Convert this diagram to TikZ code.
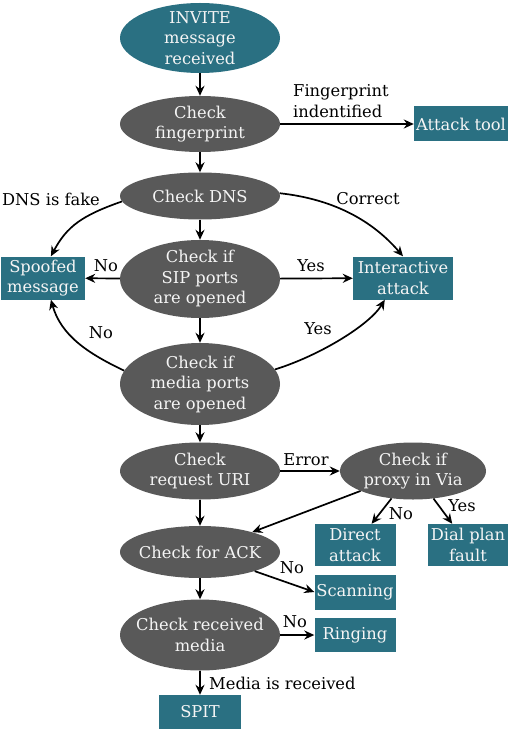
\documentclass[tikz,border=0pt]{standalone}
\usepackage{fontspec}
\setmainfont{DejaVu Serif}
\usetikzlibrary{arrows.meta,shapes.geometric}
\definecolor{tealc}{RGB}{42,112,130}
\definecolor{grayc}{RGB}{89,89,89}
\definecolor{txtc}{RGB}{245,245,245}
\newcommand\fs{\fontsize{16.3}{20.5}\selectfont}
\begin{document}
\begin{tikzpicture}[x=1pt,y=-1pt,
 ell/.style={ellipse, fill=grayc, minimum width=160pt, inner sep=0pt},
 ltxt/.style={align=center, text=txtc, font=\fs, inner sep=0pt},
 box/.style={rectangle, fill=tealc, text=txtc, inner sep=0pt, align=center, font=\fs},
 arr/.style={-{Stealth[length=10pt,width=9pt]}, line width=1.7pt},
 lbl/.style={font=\fs, inner sep=0pt, align=left}]
\useasboundingbox (0,0) rectangle (509,730);
% ellipses
\node[ell, fill=tealc, minimum height=70pt, label={[ltxt]center:{INVITE\\message\\received}}] (inv) at (200,38) {};
\node[ell, minimum height=56pt, label={[ltxt]center:{Check\\fingerprint}}] (fp) at (200,124) {};
\node[ell, minimum height=47pt, label={[ltxt]center:{Check DNS}}] (dns) at (200,196) {};
\node[ell, minimum height=78pt, label={[ltxt]center:{Check if\\SIP ports\\are opened}}] (sip) at (200,279) {};
\node[ell, minimum height=82pt, label={[ltxt]center:{Check if\\media ports\\are opened}}] (media) at (200,384) {};
\node[ell, minimum height=57pt, label={[ltxt]center:{Check\\request URI}}] (uri) at (200,471) {};
\node[ell, minimum width=146pt, minimum height=57pt, label={[ltxt]center:{Check if\\proxy in Via}}] (proxy) at (413,471) {};
\node[ell, minimum height=52pt, label={[ltxt]center:{Check for ACK}}] (ack) at (200,552) {};
\node[ell, minimum height=71pt, label={[ltxt]center:{Check received\\media}}] (rmedia) at (200,635) {};
% boxes
\node[box, minimum width=94pt, minimum height=35pt] (at) at (461,124) {Attack tool};
\node[box, minimum width=84pt, minimum height=43pt] (spoof) at (43,278) {Spoofed\\message};
\node[box, minimum width=100pt, minimum height=43pt] (inter) at (403,278) {Interactive\\attack};
\node[box, minimum width=81pt, minimum height=42pt] (direct) at (355,545) {Direct\\attack};
\node[box, minimum width=80pt, minimum height=42pt] (dial) at (468,545) {Dial plan\\fault};
\node[box, minimum width=81pt, minimum height=35pt] (scan) at (355,592) {Scanning};
\node[box, minimum width=81pt, minimum height=34pt] (ring) at (355,635) {Ringing};
\node[box, minimum width=82pt, minimum height=34pt] (spit) at (200,712) {SPIT};
% connectors
\draw[arr] (inv) -- (fp);
\draw[arr] (fp) -- (at);
\draw[arr] (fp) -- (dns);
\draw[arr] (dns) -- (sip);
\draw[arr] (sip) -- (spoof);
\draw[arr] (sip) -- (inter);
\draw[arr] (dns.184) .. controls +(-40,14) and +(16,-30) .. (spoof.70);
\draw[arr] (dns.2) .. controls +(55,6) and +(-30,-35) .. (inter.north);
\draw[arr] (media.170) .. controls +(-38,-18) and +(10,35) .. (spoof.-70);
\draw[arr] (media.11) .. controls +(45,-14) and +(-15,25) .. (inter.-130);
\draw[arr] (sip) -- (media);
\draw[arr] (media) -- (uri);
\draw[arr] (uri) -- (proxy);
\draw[arr] (uri) -- (ack);
\draw[arr] (proxy) -- (ack);
\draw[arr] (proxy) -- (direct);
\draw[arr] (proxy) -- (dial);
\draw[arr] (ack) -- (scan.west);
\draw[arr] (ack) -- (rmedia);
\draw[arr] (rmedia) -- (ring);
\draw[arr] (rmedia) -- (spit);
% labels
\node[lbl, anchor=west] (l1) at (293,101) {Fingerprint\\indentified};
\node[lbl] (l2) at (51,199) {DNS is fake};
\node[lbl] (l3) at (368,199) {Correct};
\node[lbl] (l4) at (106,266) {No};
\node[lbl] (l5) at (311,266) {Yes};
\node[lbl] (l6) at (101,333) {No};
\node[lbl] (l7) at (318,329) {Yes};
\node[lbl] (l8) at (306,460) {Error};
\node[lbl] (l9) at (401,514) {No};
\node[lbl] (l10) at (462,506) {Yes};
\node[lbl] (l11) at (292,568) {No};
\node[lbl] (l12) at (295,622) {No};
\node[lbl, anchor=west] (l13) at (209,683) {Media is received};
\end{tikzpicture}
\end{document}
